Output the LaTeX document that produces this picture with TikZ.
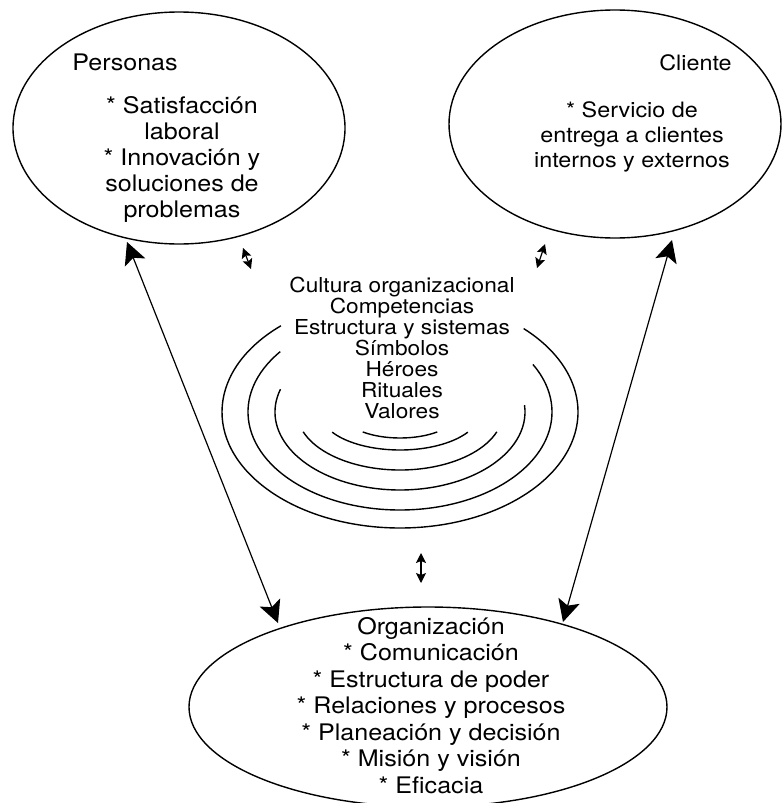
\documentclass[tikz,border=0pt]{standalone}
\usepackage{fontspec}
\setmainfont{TeX Gyre Heros}[FakeStretch=1.1]
\usetikzlibrary{arrows.meta}

\tikzset{
  bord/.style={line width=0.7pt},
  grande/.style={line width=0.6pt, >={Stealth[length=11pt,width=11pt,inset=2.5pt]}, <->},
  petite/.style={line width=0.6pt, >={Stealth[length=5pt,width=5pt,inset=1pt]}, <->},
  texte/.style={inner sep=0pt, align=center},
  ample/.style={font=\fontsize{11.4}{13}\selectfont},
  serre/.style={font=\fontsize{10.3}{10.5}\selectfont}
}

\begin{document}
\begin{tikzpicture}[x=0.5pt, y=-0.5pt]
    % cadre
    \useasboundingbox (0,0) rectangle (783,803);
    % les trois ellipses
    \draw[bord] (179,128) ellipse [x radius=166, y radius=116];
    \draw[bord] (615,124) ellipse [x radius=166, y radius=114];
    \draw[bord] (428,707) ellipse [x radius=239, y radius=100];
    % textes
    \node[texte, ample, anchor=base west] (personas) at (72,70) {Personas};
    \node[texte, ample, anchor=base] (persdesc) at (182,217)
        {* Satisfacción\\ laboral\\ * Innovación y\\ soluciones de\\ problemas};
    \node[texte, serre, font=\fontsize{10.6}{12.5}\selectfont, anchor=base east] (cliente) at (732,70) {Cliente};
    \node[texte, serre, font=\fontsize{10.6}{12.5}\selectfont, anchor=base] (clidesc) at (632,167)
        {* Servicio de\\ entrega a clientes\\ internos y externos};
    \node[texte, serre, anchor=base] (cultura) at (402,418)
        {Cultura organizacional\\ Competencias\\ Estructura y sistemas\\ Símbolos\\ Héroes\\ Rituales\\ Valores};
    \node[texte, ample, font=\fontsize{11.4}{13.25}\selectfont, anchor=base] (orgdesc) at (431,793)
        {Organización\\ * Comunicación\\ * Estructura de poder\\ * Relaciones y procesos\\ * Planeación y decisión\\ * Misión y visión\\ * Eficacia};
    % arcs de la culture
\begin{scope}[line width=0.7pt]
    \draw ([shift={(228:178 and 116)}]400,412) arc[start angle=228, end angle=-46, x radius=178, y radius=116];
    \draw ([shift={(218:152 and 98)}]400,412) arc[start angle=218, end angle=-29, x radius=152, y radius=98];
    \draw ([shift={(197:125 and 78)}]400,412) arc[start angle=197, end angle=-5, x radius=125, y radius=78];
    \draw ([shift={(160:103 and 58)}]400,412) arc[start angle=160, end angle=20, x radius=103, y radius=58];
    \draw ([shift={(148:80 and 38)}]400,412) arc[start angle=148, end angle=32, x radius=80, y radius=38];
    \draw ([shift={(130:58 and 26)}]400,412) arc[start angle=130, end angle=50, x radius=58, y radius=26];
\end{scope}
    % fleches
    \coordinate (p1) at (127,242);
    \coordinate (o1) at (278,623);
    \coordinate (c1) at (672,240);
    \coordinate (o2) at (563,622);
    \coordinate (p2) at (243,248);
    \coordinate (k1) at (251,269);
    \coordinate (c2) at (545,244);
    \coordinate (k2) at (537,268);
    \coordinate (k3) at (421,553);
    \coordinate (o3) at (421,583);
    \draw[grande] (p1) -- (o1);
    \draw[grande] (c1) -- (o2);
    \draw[petite] (p2) -- (k1);
    \draw[petite] (c2) -- (k2);
    \draw[petite] (k3) -- (o3);
\end{tikzpicture}
\end{document}
